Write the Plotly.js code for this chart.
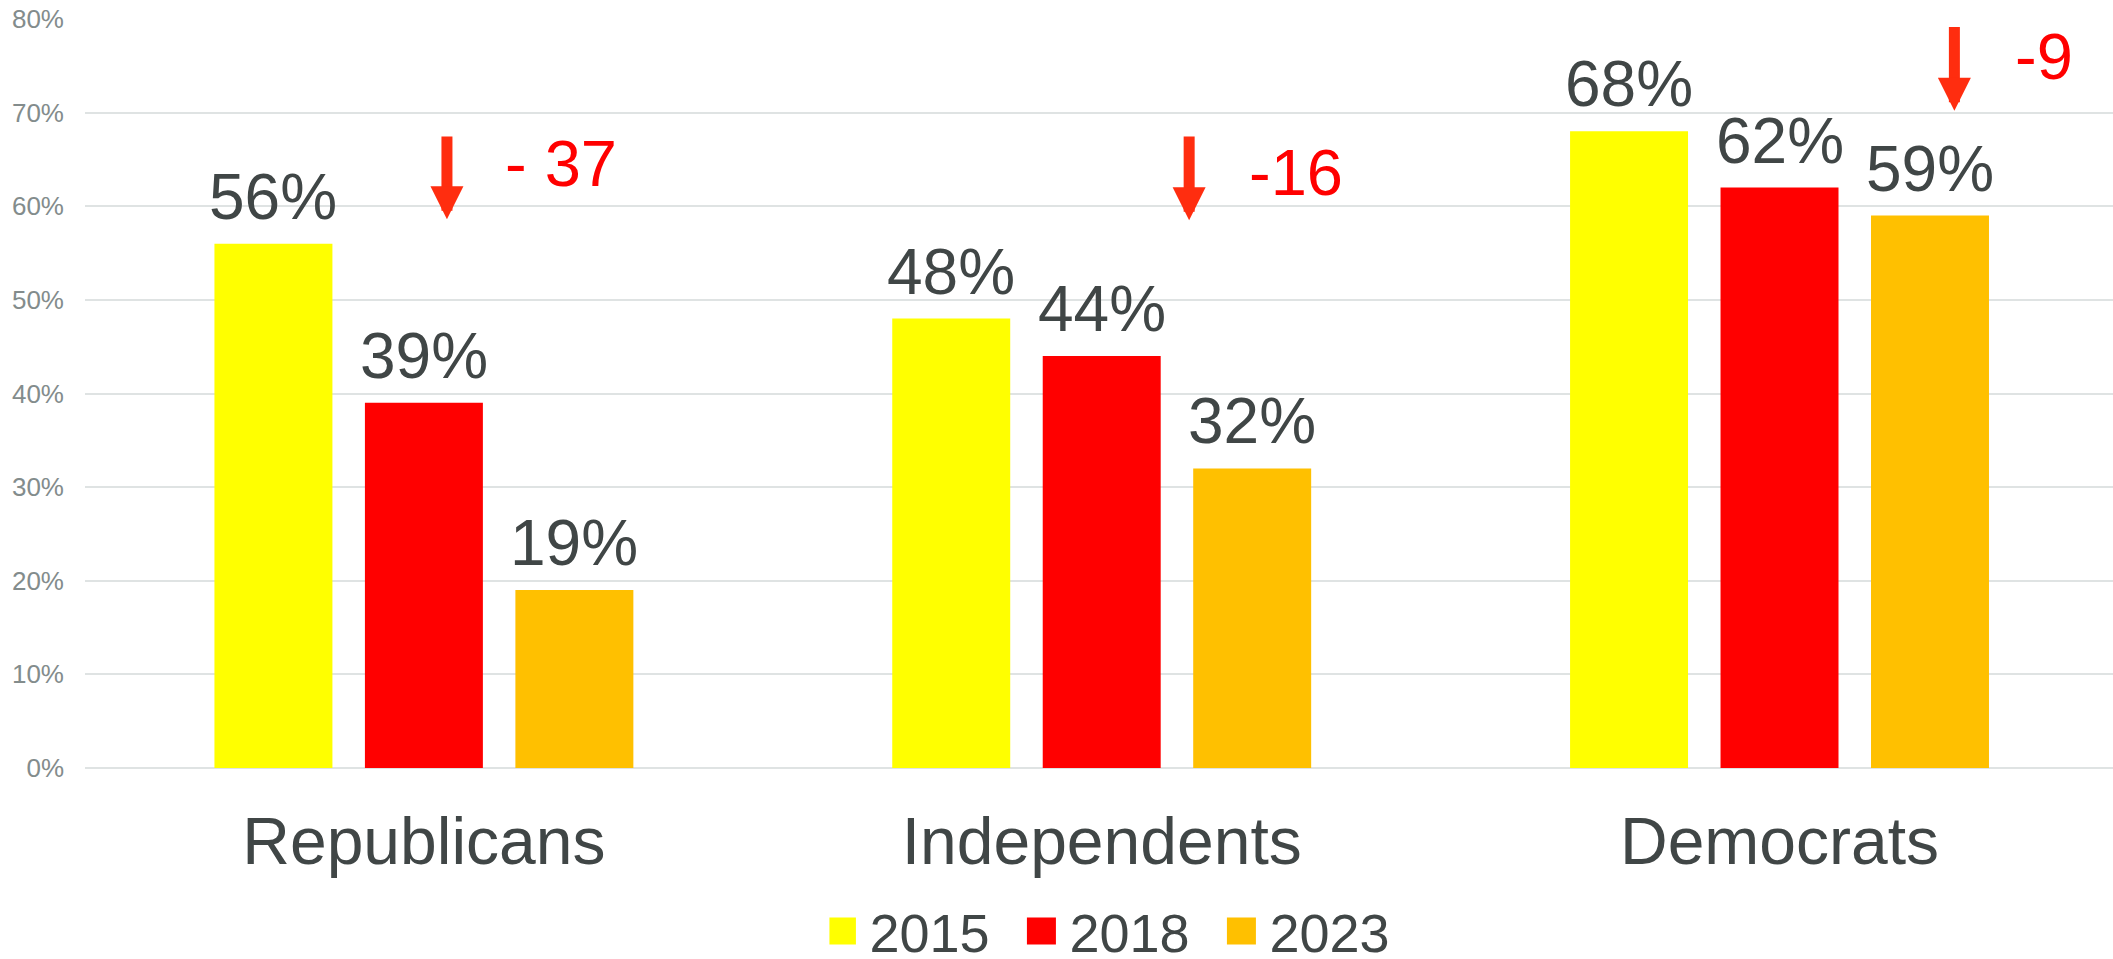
<!DOCTYPE html>
<html>
<head>
<meta charset="utf-8">
<script src="https://cdn.plot.ly/plotly-3.0.1.min.js"></script>
<style>
html,body{margin:0;padding:0;background:#fff;overflow:hidden;}
#chart{width:2113px;height:959px;}
</style>
</head>
<body>
<div id="chart"></div>
<script>
const categories = ['Republicans', 'Independents', 'Democrats'];
const years = ['2015', '2018', '2023'];
const values2015 = [56, 48, 68];
const values2018 = [39, 44, 62];
const values2023 = [19, 32, 59];
const changeLabels = ['- 37', '-16', '-9'];
const yTicks = [0, 10, 20, 30, 40, 50, 60, 70, 80];

const seriesValues = [values2015, values2018, values2023];
const seriesColors = ['#ffff00', '#ff0000', '#ffc000'];
const darkText = '#404646';
const font = '"Liberation Sans", Arial, Helvetica, sans-serif';
const barGap = 0.334;
const barGroupGap = 0.216;

const traces = years.map((yr, i) => ({
  type: 'bar',
  name: yr,
  x: categories,
  y: seriesValues[i],
  marker: {color: seriesColors[i]},
  hoverinfo: 'skip'
}));

const annotations = [];

// value labels above each bar, centred on the grouped-bar slots
const slot = (1 - barGap) / years.length;
seriesValues.forEach((vals, j) => {
  vals.forEach((v, i) => {
    annotations.push({
      x: i + (j - (years.length - 1) / 2) * slot, y: v, xref: 'x', yref: 'y',
      text: v + '%', showarrow: false, xanchor: 'center', yanchor: 'bottom', yshift: 9,
      font: {family: font, size: 64, color: darkText}
    });
  });
});

// arrow tip / tail positions (category index units, percent units)
const arrowSpecs = [
  {x: 0.034, tip: 58.6, tail: 67.6, lx: 0.116, ly: 64.6},
  {x: 1.129, tip: 58.5, tail: 67.6, lx: 1.214, ly: 63.6},
  {x: 2.258, tip: 70.2, tail: 79.3, lx: 2.344, ly: 76.0}
];
arrowSpecs.forEach((a, i) => {
  annotations.push({
    x: a.x, y: a.tip, xref: 'x', yref: 'y',
    ax: a.x, ay: a.tail, axref: 'x', ayref: 'y',
    text: '', showarrow: true, arrowhead: 2, arrowsize: 0.6, arrowwidth: 11,
    arrowcolor: '#ff2d0f', standoff: 0, startstandoff: 0
  });
  annotations.push({
    x: a.lx, y: a.ly, xref: 'x', yref: 'y',
    text: changeLabels[i], showarrow: false, xanchor: 'left', yanchor: 'middle',
    font: {family: font, size: 65, color: '#ff0000'}
  });
});

const layout = {
  width: 2113, height: 959,
  margin: {l: 85, r: 0, t: 19, b: 191, pad: 0, autoexpand: false},
  paper_bgcolor: '#ffffff', plot_bgcolor: 'rgba(0,0,0,0)',
  font: {family: font, color: darkText},
  barmode: 'group', bargap: barGap, bargroupgap: barGroupGap,
  showlegend: true,
  legend: {
    orientation: 'h', x: 0.515, xanchor: 'center', y: -0.218, yanchor: 'middle',
    entrywidth: 155, entrywidthmode: 'pixels',
    font: {family: font, size: 54, color: darkText},
    bgcolor: 'rgba(0,0,0,0)', traceorder: 'normal'
  },
  xaxis: {
    type: 'category', range: [-0.5, 2.492], fixedrange: true, automargin: false,
    showgrid: false, showline: false, zeroline: false, ticks: '',
    ticklabelstandoff: 29,
    tickfont: {family: font, size: 66, color: darkText}
  },
  yaxis: {
    range: [0, 80], tickvals: yTicks, ticktext: yTicks.map(v => v + '%'),
    showgrid: true, gridcolor: '#dfe3e3', gridwidth: 2, automargin: false,
    zeroline: true, zerolinecolor: '#dfe3e3', zerolinewidth: 2,
    showline: false, ticks: '', ticklabelstandoff: 20,
    tickfont: {family: font, size: 26, color: '#838c8c'}, fixedrange: true
  },
  annotations: annotations
};

Plotly.newPlot('chart', traces, layout, {displayModeBar: false, staticPlot: true}).then(() => {
  document.querySelectorAll('.legend .legendpoints path').forEach(p => {
    p.setAttribute('d', 'M6.5,13.5H-22.5V-13.5H6.5Z');
  });
});
</script>
</body>
</html>
